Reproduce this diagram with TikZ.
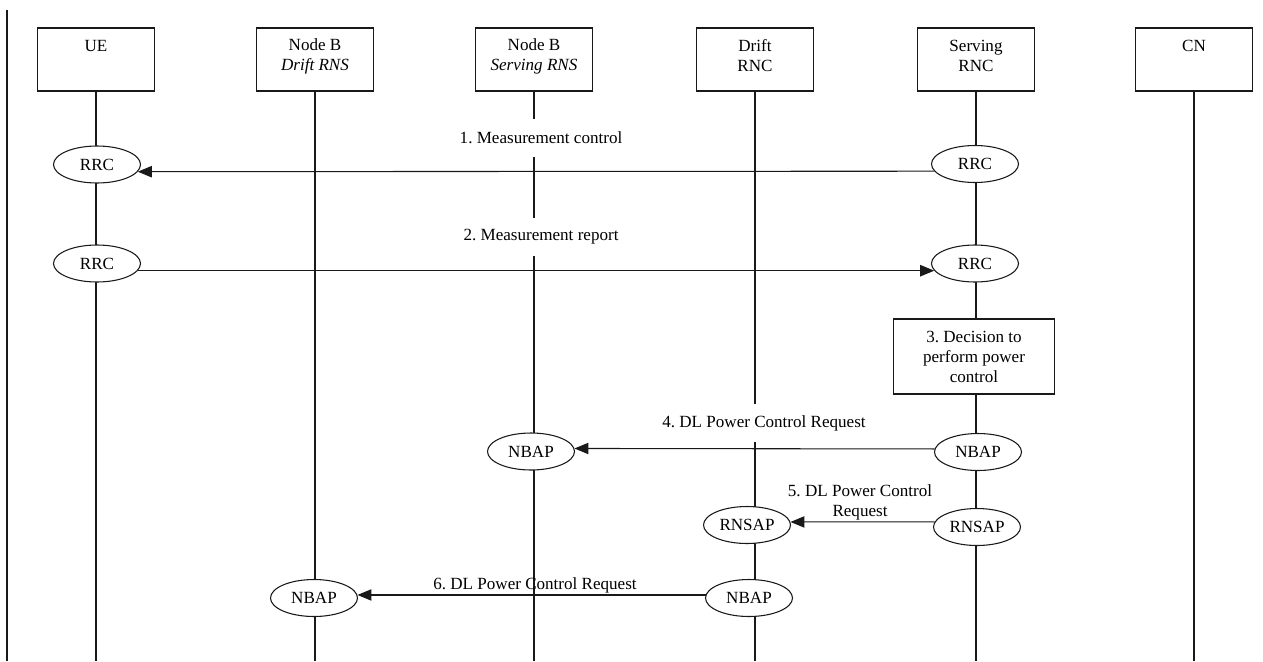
\documentclass[tikz,border=0pt]{standalone}
\usepackage{fontspec}
\setmainfont{Liberation Serif}
\usetikzlibrary{shapes.geometric,arrows.meta}
\pgfdeclarelayer{bg}
\pgfsetlayers{bg,main}
\frenchspacing
\begin{document}
\begin{tikzpicture}[x=0.75pt,y=-0.75pt,
  every node/.style={font=\fontsize{12.8pt}{15pt}\selectfont, inner sep=0pt},
  hdr/.style={draw=black!90, fill=white, line width=0.8pt, minimum width=87.75pt, minimum height=47.25pt},
  ttl/.style={align=center},
  proto/.style={ellipse, draw=black!90, fill=white, line width=0.8pt, minimum width=65.25pt, minimum height=27.75pt},
  decbox/.style={draw=black!90, fill=white, line width=0.8pt, minimum width=120.75pt, minimum height=56.25pt, align=center},
  lab/.style={fill=white, minimum height=28.5pt, inner xsep=2pt},
  ll/.style={draw=black!90, line width=0.8pt},
  msg/.style={draw=black!90, line width=0.8pt, -{Triangle[length=10.5pt,width=8.5pt]}}]
\useasboundingbox (0,0) rectangle (1263,661);
% header boxes
\node[hdr] (ue) at (96,59.5) {};
\node[ttl] (uet) at (96,46) {UE};
\node[hdr] (dnb) at (315,59.5) {};
\node[ttl] (dnbt) at (315,56) {Node B\\\textit{Drift RNS}};
\node[hdr] (snb) at (534,59.5) {};
\node[ttl] (snbt) at (534,56) {Node B\\\textit{Serving RNS}};
\node[hdr] (drnc) at (755,59.5) {};
\node[ttl] (drnct) at (755,56) {Drift\\RNC};
\node[hdr] (srnc) at (976,59.5) {};
\node[ttl] (srnct) at (976,56) {Serving\\RNC};
\node[hdr] (cn) at (1194,59.5) {};
\node[ttl] (cnt) at (1194,46) {CN};
% lifeline ends
\coordinate (lt) at (7,10);
\coordinate (lb) at (7,661);
\coordinate (ueb) at (96,661);
\coordinate (dnbb) at (315,661);
\coordinate (snbb) at (534,661);
\coordinate (drncb) at (755,661);
\coordinate (srncb) at (976,661);
\coordinate (cnb) at (1194,661);
% protocol entities
\node[proto] (rrc1u) at (97,164.5) {RRC};
\node[proto] (rrc1s) at (975,164) {RRC};
\node[proto] (rrc2u) at (97,263.5) {RRC};
\node[proto] (rrc2s) at (975,263.5) {RRC};
\node[decbox] (decide) at (974,356.5) {3. Decision to\\perform power\\control};
\node[proto] (nbs) at (531,451.5) {NBAP};
\node[proto] (nbr) at (978,452) {NBAP};
\node[proto] (rnd) at (747,525) {RNSAP};
\node[proto] (rns) at (977,527) {RNSAP};
\node[proto] (nbd) at (314,598) {NBAP};
\node[proto] (nbdr) at (749,598) {NBAP};
% message labels
\node[lab] (m1) at (541,138) {1. Measurement control};
\node[lab] (m2) at (541,237) {2. Measurement report};
\node[lab] (m4) at (764,423) {4. DL Power Control Request};
\node[align=center] (m5) at (860,502) {5. DL Power Control\\Request};
\node (m6) at (535,585) {6. DL Power Control Request};
% lifelines
\begin{pgfonlayer}{bg}
\draw[ll] (lt) -- (lb);
\draw[ll] (ue) -- (ueb);
\draw[ll] (dnb) -- (dnbb);
\draw[ll] (snb) -- (snbb);
\draw[ll] (drnc) -- (drncb);
\draw[ll] (srnc) -- (srncb);
\draw[ll] (cn) -- (cnb);
\end{pgfonlayer}
% messages
\draw[msg] (rrc1s.190) -- (rrc1u.350);
\draw[msg] (rrc2u.350) -- (rrc2s.190);
\draw[msg] (nbr.176) -- (nbs.4);
\draw[msg] (rns.173) -- (rnd.4);
\draw[msg] (nbdr.176) -- (nbd.4);
\end{tikzpicture}
\end{document}
